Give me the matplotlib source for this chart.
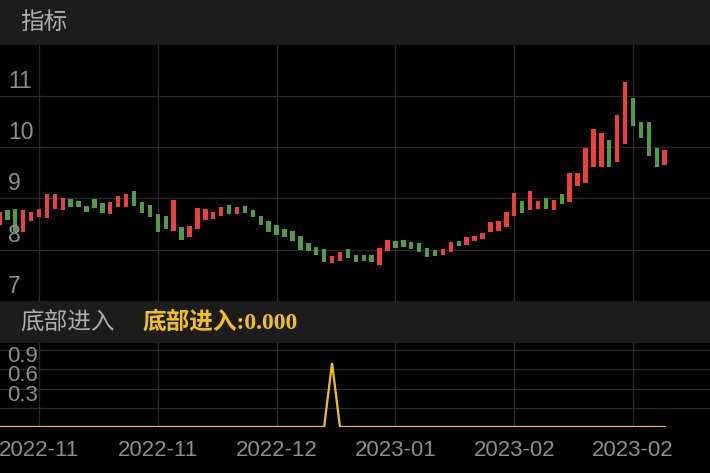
import matplotlib
matplotlib.use("Agg")
import matplotlib.pyplot as plt
import numpy as np
from matplotlib.patches import Rectangle

plt.rcParams["font.family"] = ["Liberation Sans", "Noto Sans CJK SC"]

# %% data (85 sessions, open / close only)
opens = [
    8.48, 8.77, 8.79, 8.34, 8.56, 8.64, 8.62, 8.79, 8.77, 8.99,
    8.95, 8.85, 8.99, 8.91, 8.70, 8.83, 8.83, 9.15, 8.93, 8.87,
    8.70, 8.66, 8.36, 8.44, 8.25, 8.40, 8.58, 8.60, 8.66, 8.87,
    8.70, 8.85, 8.77, 8.66, 8.56, 8.48, 8.40, 8.36, 8.27, 8.13,
    8.05, 8.01, 7.74, 7.78, 8.01, 7.89, 7.89, 7.89, 7.70, 7.97,
    8.17, 8.19, 8.15, 8.13, 8.03, 7.99, 7.90, 7.95, 8.17, 8.09,
    8.17, 8.21, 8.34, 8.36, 8.44, 8.66, 8.95, 8.77, 8.79, 9.01,
    8.77, 9.09, 8.93, 9.24, 9.30, 9.61, 9.61, 10.14, 9.71, 10.06,
    10.96, 10.49, 10.49, 9.98, 9.65,
]
closes = [
    8.73, 8.58, 8.34, 8.77, 8.73, 8.79, 9.09, 9.09, 9.01, 8.83,
    8.83, 8.73, 8.81, 8.72, 8.93, 9.05, 9.09, 8.85, 8.72, 8.64,
    8.34, 8.40, 8.97, 8.19, 8.46, 8.81, 8.79, 8.73, 8.83, 8.70,
    8.83, 8.72, 8.64, 8.48, 8.34, 8.29, 8.25, 8.17, 7.99, 7.97,
    7.89, 7.76, 7.88, 7.95, 7.84, 7.76, 7.78, 7.76, 8.03, 8.19,
    8.03, 8.05, 8.01, 7.95, 7.86, 7.88, 8.01, 8.15, 8.07, 8.25,
    8.27, 8.32, 8.54, 8.56, 8.73, 9.11, 8.72, 9.15, 8.95, 8.79,
    8.97, 8.89, 9.50, 9.50, 9.98, 10.36, 10.28, 9.61, 10.63, 11.27,
    10.41, 10.18, 9.83, 9.61, 9.95,
]
# 底部进入 signal
signal = [
    0, 0, 0, 0, 0, 0, 0, 0, 0, 0,
    0, 0, 0, 0, 0, 0, 0, 0, 0, 0,
    0, 0, 0, 0, 0, 0, 0, 0, 0, 0,
    0, 0, 0, 0, 0, 0, 0, 0, 0, 0,
    0, 0, 1, 0, 0, 0, 0, 0, 0, 0,
    0, 0, 0, 0, 0, 0, 0, 0, 0, 0,
    0, 0, 0, 0, 0, 0, 0, 0, 0, 0,
    0, 0, 0, 0, 0, 0, 0, 0, 0, 0,
    0, 0, 0, 0, 0,
]
x_tick_pos = [5, 20, 35, 50, 65, 80]
x_tick_labels = ["2022-11", "2022-11", "2022-12", "2023-01", "2023-02", "2023-02"]
main_ticks = [7, 8, 9, 10, 11]
sub_ticks = [0.3, 0.6, 0.9]


# %%
def draw():
    bg = "black"
    band_color = "#1c1c1c"
    grid_color = "#2b2b2f"
    label_color = "#8e8e8e"
    head_color = "#acacac"
    up_color = "#ee3f3b"      # red = rising
    down_color = "#4f9e3f"    # green = falling
    yellow = "#f2c01a"

    H = 473.0
    fig = plt.figure(figsize=(7.1, 4.73), dpi=100, facecolor=bg)

    # header bands
    fig.add_artist(Rectangle((0, 1 - 45 / H), 1, 45 / H, transform=fig.transFigure,
                             color=band_color, zorder=0))
    fig.add_artist(Rectangle((0, 1 - 343 / H), 1, 42.5 / H, transform=fig.transFigure,
                             color=band_color, zorder=0))

    ax1 = fig.add_axes([0, 1 - 300.8 / H, 1, 256 / H])
    ax2 = fig.add_axes([0, 1 - 427 / H, 1, 84 / H])

    x = np.arange(len(opens))
    o = np.array(opens)
    c = np.array(closes)
    colors = [up_color if cc >= oo else down_color for oo, cc in zip(o, c)]

    for ax in (ax1, ax2):
        ax.set_facecolor(bg)
        for s in ax.spines.values():
            s.set_visible(False)
        ax.set_xlim(0.076, 89.72)
        ax.set_xticks(x_tick_pos)
        ax.grid(True, color=grid_color, linewidth=0.9)
        ax.set_axisbelow(True)
        ax.tick_params(length=0, labelleft=False)

    # candles
    ax1.bar(x, np.abs(c - o), bottom=np.minimum(o, c), width=0.56,
            color=colors, linewidth=0)
    ax1.set_ylim(7, 12)
    ax1.set_yticks([8, 9, 10, 11])
    ax1.tick_params(labelbottom=False)
    for v in main_ticks:
        ax1.annotate(str(v), xy=(0.011, v), xycoords=ax1.get_yaxis_transform(),
                     xytext=(0, 5.8), textcoords="offset points",
                     ha="left", va="baseline", fontsize=16.5, color=label_color)

    # signal
    ax2.plot(x, signal, color=yellow, linewidth=1.6, solid_joinstyle="miter")
    ax2.set_ylim(0, 1.3125)
    ax2.set_yticks([0, 0.3, 0.6, 0.9, 1.2])
    ax2.set_xticklabels(x_tick_labels)
    ax2.tick_params(axis="x", labelsize=16, labelcolor=label_color, pad=9.5)
    for v in sub_ticks:
        ax2.annotate(f"{v:.1f}", xy=(0.01, v), xycoords=ax2.get_yaxis_transform(),
                     xytext=(0, 5.2), textcoords="offset points",
                     ha="left", va="baseline", fontsize=16, color=label_color)

    # header texts
    fig.text(20 / 710, 1 - 22 / H, "指标", fontsize=17, color=head_color,
             ha="left", va="center", family=["Noto Sans CJK SC"])
    fig.text(20 / 710, 1 - 322 / H, "底部进入", fontsize=17, color=head_color,
             ha="left", va="center", family=["Noto Sans CJK SC"])
    fig.text(143 / 710, 1 - 322 / H, "底部进入:0.000", fontsize=17, color=yellow,
             ha="left", va="center", fontweight="bold",
             family=["Liberation Serif", "Noto Sans CJK SC"])

    fig.savefig("out.png", dpi=100, facecolor=bg)


draw()
